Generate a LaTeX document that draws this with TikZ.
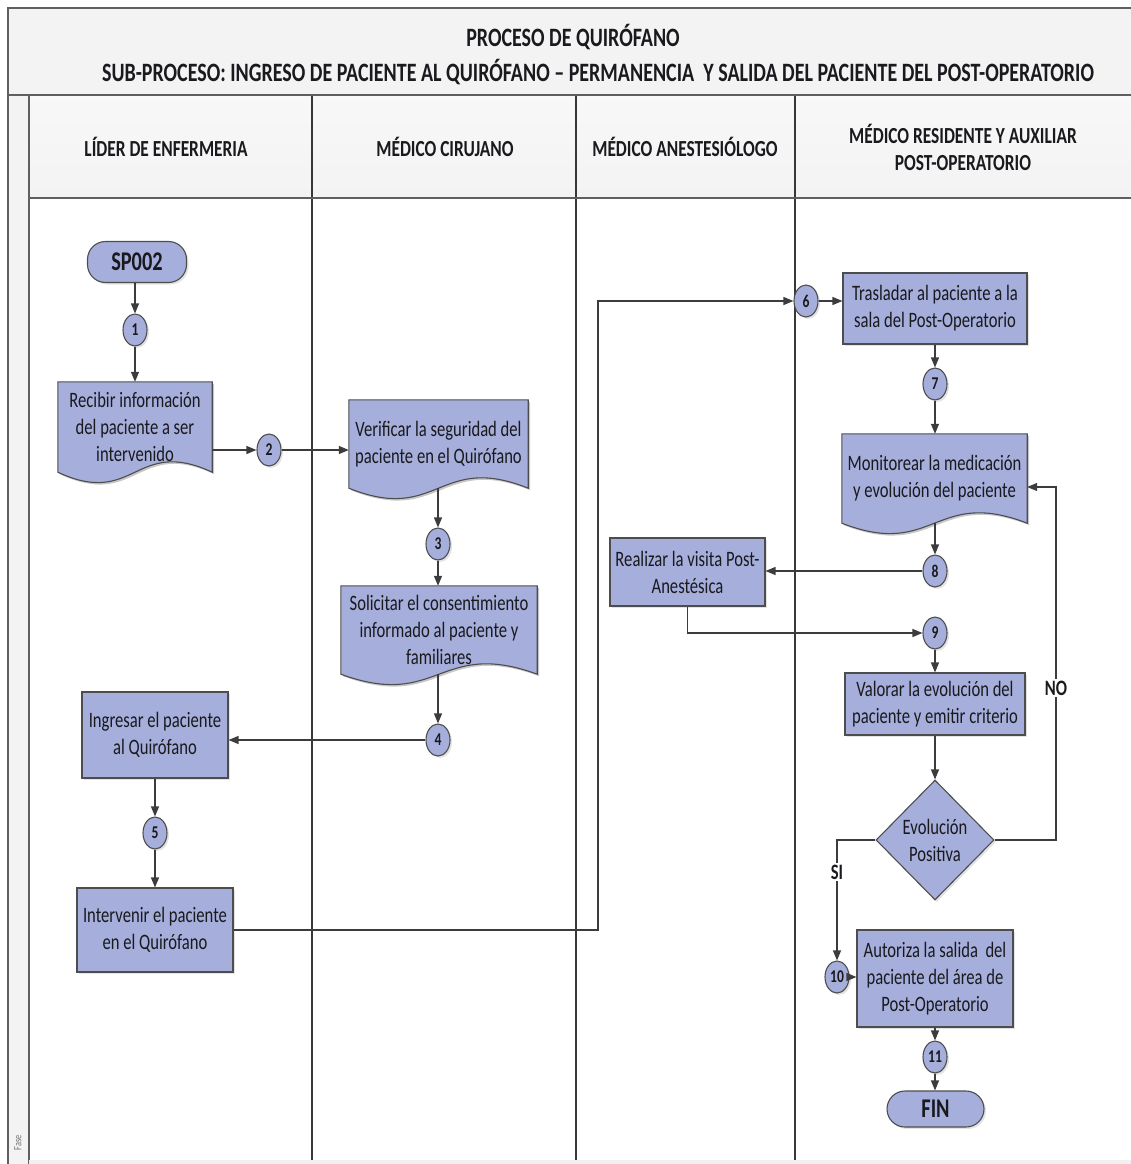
\documentclass[tikz,border=0pt]{standalone}
\usepackage{fontspec}
\setmainfont{Carlito}[FakeStretch=0.755]
\usetikzlibrary{arrows.meta,shapes.geometric,calc,backgrounds,shadows}
\definecolor{boxfill}{RGB}{166,175,219}
\definecolor{boxline}{RGB}{77,77,77}
\definecolor{arrowc}{RGB}{60,60,60}
\definecolor{framec}{RGB}{95,95,95}
\definecolor{lanec}{RGB}{55,55,55}
\definecolor{hdrfill}{RGB}{243,243,243}
\definecolor{txt}{RGB}{25,25,30}
% document shape outline: node name, wave amplitude, dx, dy
\newcommand\docoutline[4]{([shift={(#3,#4)}]#1.north west) -- ([shift={(#3,#4)}]#1.north east) -- ([shift={(#3,#4)}]#1.south east) .. controls ([shift={(#3,#4-#2)}]#1.south) and ([shift={(#3,#4+#2)}]#1.south) .. ([shift={(#3,#4)}]#1.south west) -- cycle}
\tikzset{
  shade/.style={drop shadow={opacity=0.22,shadow xshift=2pt,shadow yshift=-2pt}},
  proc/.style={rectangle, draw=boxline, fill=boxfill, line width=1.1pt, align=center,
    text=txt, font=\fontsize{22}{27}\selectfont, inner sep=0pt, shade},
  docbox/.style={rectangle, align=center, text=txt, font=\fontsize{22}{27}\selectfont, inner sep=0pt},
  num/.style={ellipse, draw=boxline, fill=boxfill, line width=1.1pt, minimum width=24pt,
    minimum height=32pt, inner sep=0pt, text=txt, font=\bfseries\fontsize{18}{18}\selectfont, shade},
  term/.style={rectangle, rounded corners=18pt, draw=boxline, fill=boxfill, line width=1.1pt,
    text=txt, font=\bfseries\fontsize{27}{27}\selectfont, inner sep=0pt, shade},
  decision/.style={diamond, draw=boxline, fill=boxfill, line width=1.1pt, minimum width=118pt,
    minimum height=120pt, inner sep=0pt, align=center, text=txt, font=\fontsize{22}{27}\selectfont, shade},
  conn/.style={draw=arrowc, line width=1.2pt, -{Triangle[length=10pt,width=8pt]}},
  lbl/.style={fill=white, text=txt, font=\bfseries\fontsize{22}{22}\selectfont, inner sep=1.5pt},
  lanehead/.style={align=center, text=txt, font=\bfseries\fontsize{23}{27}\selectfont},
  titletext/.style={text=txt, font=\bfseries\fontsize{26.5}{26.5}\selectfont},
  frameline/.style={draw=framec, line width=2.6pt},
  laneline/.style={draw=lanec, line width=1.8pt},
  docfill/.style={fill=boxfill, draw=boxline, line width=1.1pt},
  docshadow/.style={fill=black, opacity=0.22}
}
\begin{document}
\begin{tikzpicture}[x=1pt,y=-1pt]
\useasboundingbox (0,0) rectangle (1131,1164);
\clip (0,0) rectangle (1131,1164);
% ---------- frame and lanes ----------
\fill[hdrfill] (8,8) rectangle (1145,95);
\fill[top color=hdrfill!60!white, bottom color=hdrfill] (29,95) rectangle (1145,198);
\fill[hdrfill] (8,95) rectangle (29,1164);
\draw[laneline] (312,95) -- (312,1164);
\draw[laneline] (576,95) -- (576,1164);
\draw[laneline] (795,95) -- (795,1164);
\draw[frameline] (29,198) -- (1145,198);
\draw[frameline] (8,95) -- (1145,95);
\draw[frameline] (29,95) -- (29,1164);
\draw[frameline] (1145,8) -- (8,8) -- (8,1164);
\fill[black!6] (29,1160) rectangle (1145,1164);
% ---------- titles ----------
\node[titletext] (t1) at (573,37) {PROCESO DE QUIRÓFANO};
\node[titletext] (t2) at (598,72) {SUB-PROCESO: INGRESO DE PACIENTE AL QUIRÓFANO – PERMANENCIA \ Y SALIDA DEL PACIENTE DEL POST-OPERATORIO};
\node[lanehead] (h1) at (166,147) {LÍDER DE ENFERMERIA};
\node[lanehead] (h2) at (445,147) {MÉDICO CIRUJANO};
\node[lanehead] (h3) at (685,147) {MÉDICO ANESTESIÓLOGO};
\node[lanehead] (h4) at (963,147) {MÉDICO RESIDENTE Y AUXILIAR\\POST-OPERATORIO};
\node[rotate=90, text=black!55, font=\fontsize{11}{11}\selectfont] (fase) at (18,1143) {Fase};
% ---------- nodes ----------
\node[term, minimum width=99pt, minimum height=41pt] (sp) at (137,262) {SP002};
\node[num] (c1) at (135,330) {1};
\node[docbox, minimum width=154pt, minimum height=90pt] (recibir) at (135,427) {Recibir información\\del paciente a ser\\intervenido};
\node[num] (c2) at (269,450) {2};
\node[docbox, minimum width=179pt, minimum height=88pt] (verificar) at (438.5,444) {Verificar la seguridad del\\paciente en el Quirófano};
\node[num] (c3) at (438,544) {3};
\node[docbox, minimum width=196pt, minimum height=88pt] (solicitar) at (439,630) {Solicitar el consentimiento\\informado al paciente y\\familiares};
\node[num] (c4) at (438,740) {4};
\node[proc, minimum width=146pt, minimum height=86pt] (ingresar) at (155,735) {Ingresar el paciente\\al Quirófano};
\node[num] (c5) at (155,833) {5};
\node[proc, minimum width=156pt, minimum height=84pt] (intervenir) at (155,930) {Intervenir el paciente\\en el Quirófano};
\node[num] (c6) at (806,301) {6};
\node[proc, minimum width=184pt, minimum height=71pt] (trasladar) at (935,308.5) {Trasladar al paciente a la\\sala del Post-Operatorio};
\node[num] (c7) at (935,384) {7};
\node[docbox, minimum width=185pt, minimum height=89pt] (monitorear) at (934.5,478.5) {Monitorear la medicación\\y evolución del paciente};
\node[num] (c8) at (935,571) {8};
\node[proc, minimum width=155pt, minimum height=68pt] (realizar) at (687.5,572) {Realizar la visita Post-\\Anestésica};
\node[num] (c9) at (935,633) {9};
\node[proc, minimum width=180pt, minimum height=62pt] (valorar) at (935,704) {Valorar la evolución del\\paciente y emitir criterio};
\node[decision] (dec) at (935,840) {Evolución\\Positiva};
\node[num] (c10) at (837,977) {10};
\node[proc, minimum width=156pt, minimum height=97pt] (autoriza) at (935,978.5) {Autoriza la salida\ \ del\\paciente del área de\\Post-Operatorio};
\node[num] (c11) at (935,1057) {11};
\node[term, minimum width=97pt, minimum height=36pt] (fin) at (935.5,1109) {FIN};
% ---------- document shapes (behind their text) ----------
\begin{scope}[on background layer]
  \foreach \d in {recibir,verificar,solicitar,monitorear}{
    \fill[docshadow] \docoutline{\d}{36}{2}{2};
    \path[docfill] \docoutline{\d}{36}{0}{0};
  }
\end{scope}
% ---------- connectors ----------
\coordinate (jx) at (598,930);
\coordinate (jno) at (1056,487);
\draw[conn] (c1 |- sp.south) -- (c1.north);
\draw[conn] (c1.south) -- (c1.south |- recibir.north);
\draw[conn] (recibir.east |- c2) -- (c2.west);
\draw[conn] (c2.east) -- (verificar.west |- c2);
\draw[conn] (c3 |- verificar.south) -- (c3.north);
\draw[conn] (c3.south) -- (c3.south |- solicitar.north);
\draw[conn] (c4 |- solicitar.south) -- (c4.north);
\draw[conn] (c4.west) -- (ingresar.east |- c4);
\draw[conn] (c5 |- ingresar.south) -- (c5.north);
\draw[conn] (c5.south) -- (c5.south |- intervenir.north);
\draw[conn] (intervenir.east) -- (jx) -- (jx |- c6) -- (c6.west);
\draw[conn] (c6.east) -- (trasladar.west |- c6);
\draw[conn] (c7 |- trasladar.south) -- (c7.north);
\draw[conn] (c7.south) -- (c7.south |- monitorear.north);
\draw[conn] (c8 |- monitorear.south) -- (c8.north);
\draw[conn] (c8.west) -- (realizar.east |- c8);
\draw[conn] (realizar.south) |- (c9.west);
\draw[conn] (c9.south) -- (c9.south |- valorar.north);
\draw[conn] (dec |- valorar.south) -- (dec.north);
\draw[conn] (dec.east) -| (jno) -- (monitorear.east |- jno);
\draw[conn] (dec.west) -| (c10.north);
\draw[conn] (c10.east) -- (autoriza.west |- c10);
\draw[conn] (c11 |- autoriza.south) -- (c11.north);
\draw[conn] (c11.south) -- (c11.south |- fin.north);
\node[lbl] (si) at (837,872) {SI};
\node[lbl] (no) at (1056,688) {NO};
\end{tikzpicture}
\end{document}
